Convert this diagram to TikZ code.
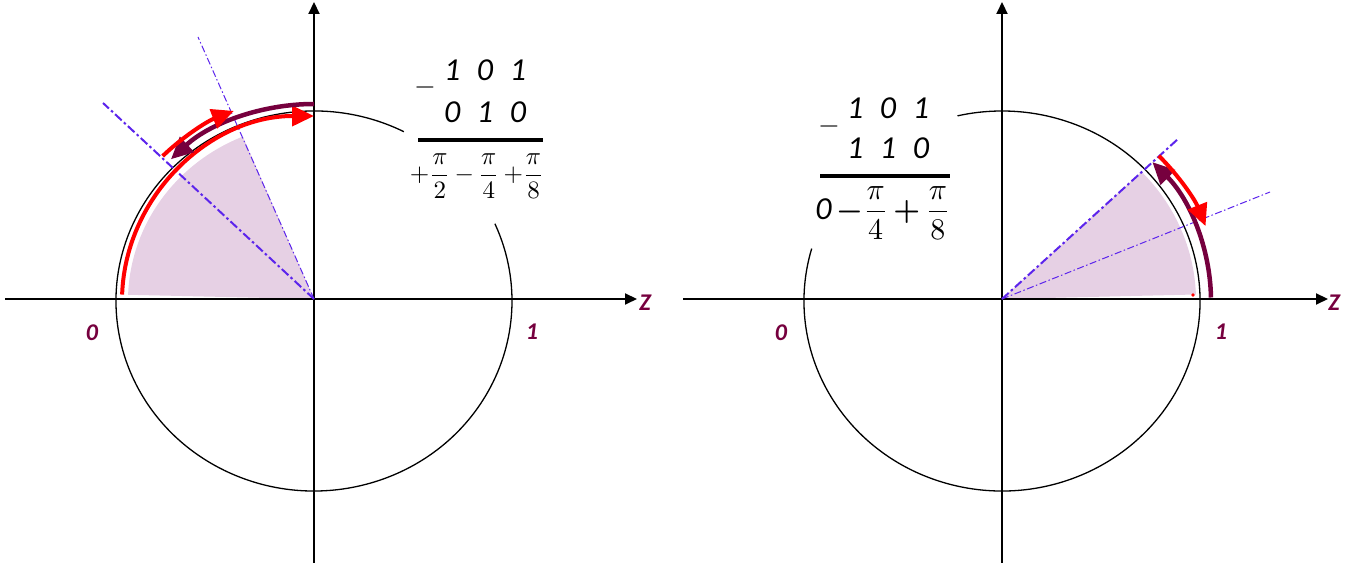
\documentclass[tikz,border=0pt]{standalone}
\usepackage{amsmath}
\usepackage{fontspec}
\newfontfamily\carlito{Carlito}
\usetikzlibrary{arrows.meta,calc}
\definecolor{PhRed}{RGB}{255,0,0}
\definecolor{PhPlum}{RGB}{118,0,62}
\definecolor{PhBlue}{RGB}{92,36,236}
\definecolor{PhLilac}{RGB}{230,208,228}
\tikzset{
  ph/axis/.style={line width=2pt, -{Triangle[length=12pt,width=11pt]}},
  ph/circle/.style={line width=1.3pt},
  ph/redarc/.style={line width=4pt, draw=PhRed, -{Triangle[length=22pt,width=20pt]}},
  ph/plumarc/.style={line width=4.5pt, draw=PhPlum, -{Triangle[length=22pt,width=20pt]}},
  ph/ray/.style={draw=PhBlue, line width=2pt, dash pattern=on 9pt off 3pt on 2.5pt off 3pt},
  ph/thinray/.style={draw=PhBlue, line width=1pt, dash pattern=on 7pt off 2.5pt on 1.5pt off 2.5pt},
  ph/sector/.style={fill=PhLilac},
  ph/bits/.style={font=\carlito\itshape\fontsize{32}{36}\selectfont, inner sep=0pt},
  ph/label/.style={font=\carlito\bfseries\itshape\fontsize{24}{28}\selectfont, text=PhPlum, inner sep=0pt},
  ph/phase/.style={font=\fontsize{10}{12}\selectfont, inner sep=0pt, scale=2.5},
  ph/sign/.style={font=\fontsize{10}{12}\selectfont, inner sep=0pt, scale=2.8},
  ph/bar/.style={line width=4pt}
}
\newcommand{\phbits}[3]{#1\hskip.52em#2\hskip.52em#3}

\begin{document}
\begin{tikzpicture}[x=1pt,y=1pt]
  \useasboundingbox (0,0) rectangle (1367,569);

  \coordinate (O1) at (314,270);
  \coordinate (C1) at (314,268);
  \coordinate (h1w) at (5,270);
  \coordinate (h1e) at (637,270);
  \coordinate (v1s) at (314,6);
  \coordinate (v1n) at (314,567);
  \coordinate (r1a) at (103,466);
  \coordinate (r1b) at (198,532);

  \fill[ph/sector] (O1) -- ([shift={(178:186 and 178)}]C1)
    arc[start angle=178,end angle=112.5,x radius=186,y radius=178] -- cycle;
  \draw[ph/circle] ([shift={(63:198 and 190)}]C1)
    arc[start angle=63,end angle=384,x radius=198,y radius=190];
  \draw[ph/axis] (h1w) -- (h1e);
  \draw[ph/axis] (v1s) -- (v1n);
  \draw[ph/ray] (O1) -- (r1a);
  \draw[ph/thinray] (O1) -- (r1b);
  \draw[ph/redarc] ([shift={(178:192 and 185)}]C1)
    arc[start angle=178,end angle=90,x radius=192,y radius=185];
  \draw[ph/plumarc] ([shift={(90:206 and 197)}]C1)
    arc[start angle=90,end angle=134,x radius=206,y radius=197];
  \draw[ph/redarc] ([shift={(135:214 and 205)}]C1)
    arc[start angle=135,end angle=112,x radius=214,y radius=205];

  \node[ph/label] (zero1) at (92,236) {0};
  \node[ph/label] (one1) at (532,237) {1};
  \node[ph/label] (z1) at (645,266) {Z};

  \node[ph/bits] (top1) at (485,499) {\phbits101};
  \node[ph/bits] (mid1) at (485,457) {\phbits010};
  \node[ph/sign] (minus1) at (425,481) {$-$};
  \coordinate (bar1w) at (418,429);
  \coordinate (bar1e) at (543,429);
  \draw[ph/bar] (bar1w) -- (bar1e);
  \node[ph/phase] (sum1) at (477,393)
    {$\displaystyle{+}\frac{\pi}{2}\,{-}\,\frac{\pi}{4}\,{+}\frac{\pi}{8}$};

  \coordinate (O2) at (1002,270);
  \coordinate (C2) at (1002,268);
  \coordinate (h2w) at (683,270);
  \coordinate (h2e) at (1328,270);
  \coordinate (v2s) at (1002,6);
  \coordinate (v2n) at (1002,567);
  \coordinate (r2a) at (1178,430);
  \coordinate (r2b) at (1270,377);

  \fill[ph/sector] (O2) -- ([shift={(2:194 and 186)}]C2)
    arc[start angle=2,end angle=44,x radius=194,y radius=186] -- cycle;
  \draw[ph/circle] ([shift={(164:198 and 190)}]C2)
    arc[start angle=164,end angle=463,x radius=198,y radius=190];
  \draw[ph/axis] (h2w) -- (h2e);
  \draw[ph/axis] (v2s) -- (v2n);
  \draw[ph/ray] (O2) -- (r2a);
  \draw[ph/thinray] (O2) -- (r2b);
  \draw[ph/plumarc] ([shift={(1:209 and 200)}]C2)
    arc[start angle=1,end angle=44,x radius=209,y radius=200];
  \draw[ph/redarc] ([shift={(44:218 and 209)}]C2)
    arc[start angle=44,end angle=21,x radius=218,y radius=209];
  \fill[PhRed] (1193,274) circle[radius=1.8];

  \node[ph/label] (zero2) at (781,236) {0};
  \node[ph/label] (one2) at (1221,237) {1};
  \node[ph/label] (z2) at (1334,266) {Z};

  \node[ph/bits] (top2) at (888,461) {\phbits101};
  \node[ph/bits] (mid2) at (888,421) {\phbits110};
  \node[ph/sign] (minus2) at (829,442) {$-$};
  \coordinate (bar2w) at (820,393);
  \coordinate (bar2e) at (950,393);
  \draw[ph/bar] (bar2w) -- (bar2e);
  \node[ph/phase,scale=1.2] (sum2) at (883,356)
    {{\carlito\itshape\fontsize{10.7}{12}\selectfont 0}\hskip1.5pt$\displaystyle{\boldsymbol{-}}\frac{\pi}{4}\,{\boldsymbol{+}}\,\frac{\pi}{8}$};
\end{tikzpicture}
\end{document}
